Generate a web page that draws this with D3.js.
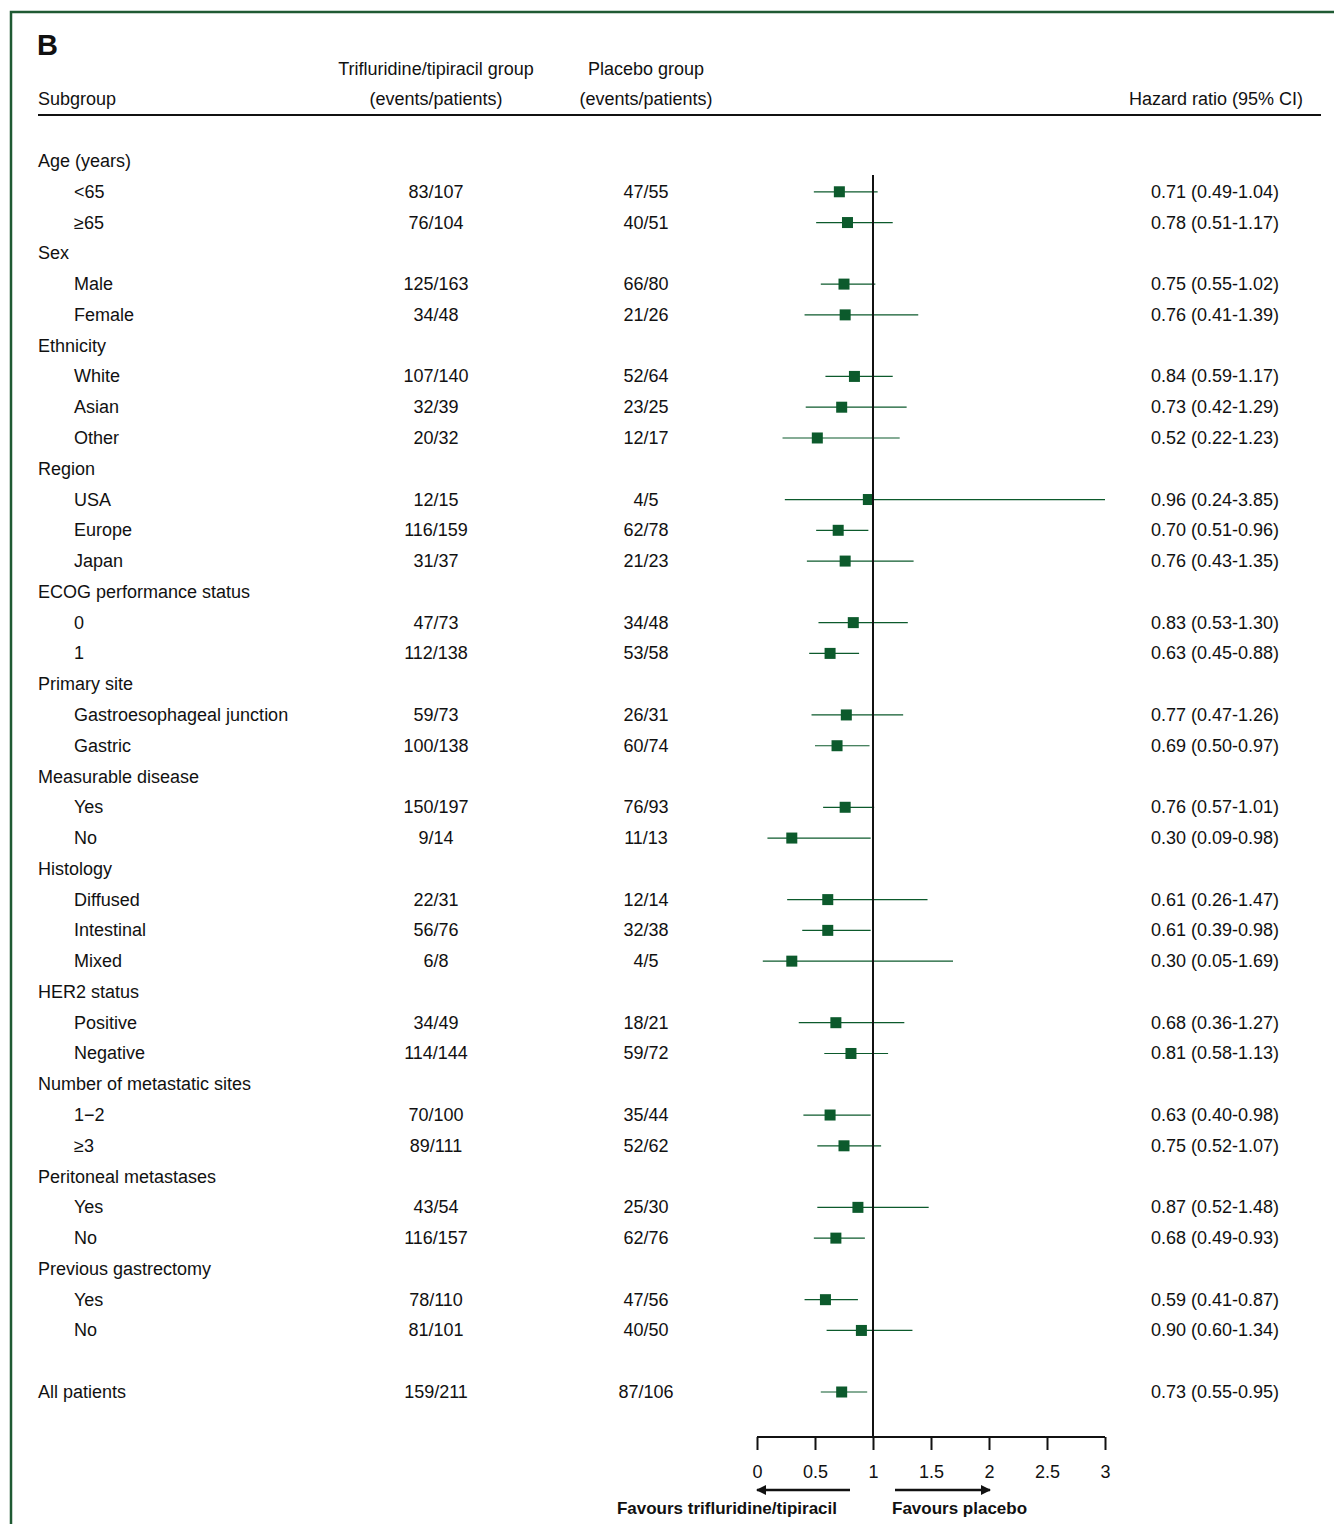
<!DOCTYPE html>
<html>
<head>
<meta charset="utf-8">
<script src="https://cdn.jsdelivr.net/npm/d3@7"></script>
<style>
  body { margin: 0; background: #fff; }
  text { font-family: "Liberation Sans", Arial, sans-serif; fill: #111; }
</style>
</head>
<body>
<svg id="chart" width="1334" height="1524"></svg>
<script>
// row labels (null = blank spacer row); headers have no numbers
const labels = ["Age (years)", "<65", "\u226565", "Sex", "Male", "Female", "Ethnicity", "White", "Asian", "Other",
  "Region", "USA", "Europe", "Japan", "ECOG performance status", "0", "1", "Primary site",
  "Gastroesophageal junction", "Gastric", "Measurable disease", "Yes", "No", "Histology", "Diffused",
  "Intestinal", "Mixed", "HER2 status", "Positive", "Negative", "Number of metastatic sites", "1\u22122",
  "\u22653", "Peritoneal metastases", "Yes", "No", "Previous gastrectomy", "Yes", "No", null, "All patients"];
const isHeader = [1,0,0,1,0,0,1,0,0,0,1,0,0,0,1,0,0,1,0,0,1,0,0,1,0,0,0,1,0,0,1,0,0,1,0,0,1,0,0,0,0];
const ftdEvents = [null,"83/107","76/104",null,"125/163","34/48",null,"107/140","32/39","20/32",null,"12/15","116/159","31/37",
  null,"47/73","112/138",null,"59/73","100/138",null,"150/197","9/14",null,"22/31","56/76","6/8",null,"34/49","114/144",
  null,"70/100","89/111",null,"43/54","116/157",null,"78/110","81/101",null,"159/211"];
const pboEvents = [null,"47/55","40/51",null,"66/80","21/26",null,"52/64","23/25","12/17",null,"4/5","62/78","21/23",
  null,"34/48","53/58",null,"26/31","60/74",null,"76/93","11/13",null,"12/14","32/38","4/5",null,"18/21","59/72",
  null,"35/44","52/62",null,"25/30","62/76",null,"47/56","40/50",null,"87/106"];
const hr = [null,0.71,0.78,null,0.75,0.76,null,0.84,0.73,0.52,null,0.96,0.70,0.76,null,0.83,0.63,null,0.77,0.69,
  null,0.76,0.30,null,0.61,0.61,0.30,null,0.68,0.81,null,0.63,0.75,null,0.87,0.68,null,0.59,0.90,null,0.73];
const lo = [null,0.49,0.51,null,0.55,0.41,null,0.59,0.42,0.22,null,0.24,0.51,0.43,null,0.53,0.45,null,0.47,0.50,
  null,0.57,0.09,null,0.26,0.39,0.05,null,0.36,0.58,null,0.40,0.52,null,0.52,0.49,null,0.41,0.60,null,0.55];
const hi = [null,1.04,1.17,null,1.02,1.39,null,1.17,1.29,1.23,null,3.85,0.96,1.35,null,1.30,0.88,null,1.26,0.97,
  null,1.01,0.98,null,1.47,0.98,1.69,null,1.27,1.13,null,0.98,1.07,null,1.48,0.93,null,0.87,1.34,null,0.95];
const ticks = [0, 0.5, 1, 1.5, 2, 2.5, 3];

const svg = d3.select("#chart");
const green = "#0c5a2c";
const fs = 18;
const x = d3.scaleLinear().domain([0, 3]).range([757, 1105]);
const y = d3.scaleLinear().domain([0, labels.length - 1]).range([161, 1392]);

// frame
svg.append("path").attr("d", "M11,1524 V12 H1334").attr("fill", "none").attr("stroke", "#1f5a33").attr("stroke-width", 2.5);

svg.append("text").attr("x", 37).attr("y", 55).attr("font-size", 29).attr("font-weight", "bold").text("B");

// header
const hdr = [
  [38, 105, "start", "Subgroup"],
  [436, 75, "middle", "Trifluridine/tipiracil group"],
  [436, 105, "middle", "(events/patients)"],
  [646, 75, "middle", "Placebo group"],
  [646, 105, "middle", "(events/patients)"],
  [1303, 105, "end", "Hazard ratio (95% CI)"]
];
hdr.forEach(h => svg.append("text").attr("x", h[0]).attr("y", h[1]).attr("text-anchor", h[2]).attr("font-size", fs).text(h[3]));
svg.append("line").attr("x1", 38).attr("x2", 1321).attr("y1", 115).attr("y2", 115).attr("stroke", "#111").attr("stroke-width", 2.2);

// rows
labels.forEach((lab, i) => {
  if (lab === null) return;
  const yy = y(i) + 6;
  const ind = isHeader[i] || lab === "All patients" ? 38 : 74;
  svg.append("text").attr("x", ind).attr("y", yy).attr("font-size", fs).text(lab);
  if (hr[i] === null) return;
  svg.append("text").attr("x", 436).attr("y", yy).attr("text-anchor", "middle").attr("font-size", fs).text(ftdEvents[i]);
  svg.append("text").attr("x", 646).attr("y", yy).attr("text-anchor", "middle").attr("font-size", fs).text(pboEvents[i]);
  svg.append("text").attr("x", 1279).attr("y", yy).attr("text-anchor", "end").attr("font-size", fs)
    .text(hr[i].toFixed(2) + " (" + lo[i].toFixed(2) + "-" + hi[i].toFixed(2) + ")");
  svg.append("line").attr("x1", x(lo[i])).attr("x2", x(Math.min(hi[i], 3)))
    .attr("y1", y(i)).attr("y2", y(i)).attr("stroke", green).attr("stroke-width", 1.2);
  svg.append("rect").attr("x", x(hr[i]) - 5.5).attr("y", y(i) - 5.5).attr("width", 11).attr("height", 11).attr("fill", green);
});

// reference line
svg.append("line").attr("x1", x(1)).attr("x2", x(1)).attr("y1", 175).attr("y2", 1437).attr("stroke", "#111").attr("stroke-width", 2);

// axis
const axis = svg.append("g").attr("transform", "translate(0,1437)")
  .call(d3.axisBottom(x).tickValues(ticks).tickSize(13).tickPadding(15).tickFormat(d3.format("")));
axis.select(".domain").attr("stroke", "#111").attr("stroke-width", 2).attr("d", "M757,0H1105");
axis.selectAll(".tick line").attr("stroke", "#111").attr("stroke-width", 2);
axis.selectAll(".tick text").attr("font-size", fs).attr("font-family", "Liberation Sans, Arial, sans-serif").attr("fill", "#111");

// arrows
const defs = svg.append("defs");
defs.append("marker").attr("id", "ah").attr("viewBox", "0 0 10 10").attr("refX", 9).attr("refY", 5)
  .attr("markerWidth", 4).attr("markerHeight", 4).attr("orient", "auto")
  .append("path").attr("d", "M0,0L10,5L0,10z").attr("fill", "#111");
svg.append("line").attr("x1", 850).attr("x2", 757).attr("y1", 1490).attr("y2", 1490).attr("stroke", "#111").attr("stroke-width", 2.5).attr("marker-end", "url(#ah)");
svg.append("line").attr("x1", 895).attr("x2", 990).attr("y1", 1490).attr("y2", 1490).attr("stroke", "#111").attr("stroke-width", 2.5).attr("marker-end", "url(#ah)");
svg.append("text").attr("x", 837).attr("y", 1514).attr("text-anchor", "end").attr("font-size", 17).attr("font-weight", "bold").text("Favours trifluridine/tipiracil");
svg.append("text").attr("x", 892).attr("y", 1514).attr("font-size", 17).attr("font-weight", "bold").text("Favours placebo");
</script>
</body>
</html>
